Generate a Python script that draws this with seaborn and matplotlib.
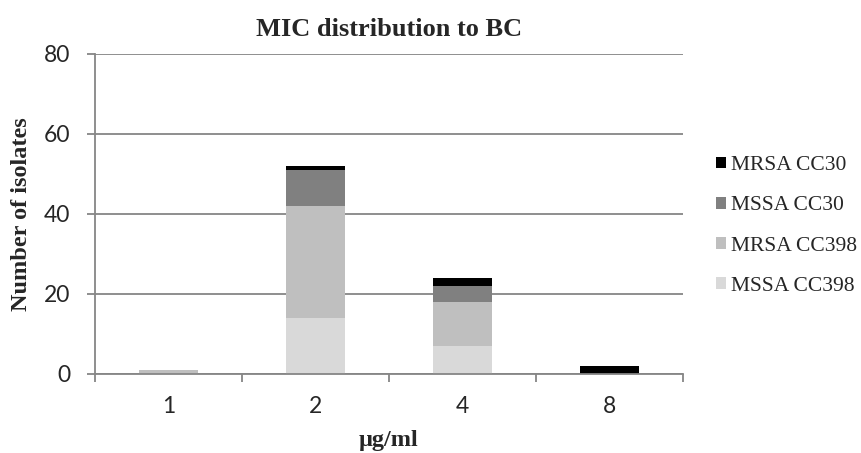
import matplotlib
matplotlib.use("Agg")
import matplotlib.pyplot as plt
import seaborn as sns
import pandas as pd
import numpy as np

categories = ["1", "2", "4", "8"]
mssa_cc398 = [0, 14, 7, 0]
mrsa_cc398 = [1, 28, 11, 0]
mssa_cc30 = [0, 9, 4, 0]
mrsa_cc30 = [0, 1, 2, 2]

series = [
    ("MSSA CC398", mssa_cc398, "#d9d9d9"),
    ("MRSA CC398", mrsa_cc398, "#bfbfbf"),
    ("MSSA CC30", mssa_cc30, "#808080"),
    ("MRSA CC30", mrsa_cc30, "#000000"),
]

sns.set_theme(style="white")
plt.rcParams['font.family'] = ['Liberation Serif', 'DejaVu Sans']

fig = plt.figure(figsize=(8.61, 4.53), dpi=100)
ax = fig.add_axes([95/861, 1-374/453, (683-95)/861, (374-54)/453])

bottom = np.zeros(len(categories))
for name, vals, col in series:
    df = pd.DataFrame({"cat": categories, "val": vals})
    sns.barplot(data=df, x="cat", y="val", color=col, bottom=bottom, width=0.4,
                ax=ax, saturation=1, linewidth=0, label=name)
    bottom = bottom + np.array(vals)

ax.set_ylim(0, 80)
ax.set_xlim(-0.5, 3.5)
ax.set_yticks([0, 20, 40, 60, 80])
ax.yaxis.grid(True, color="#868686", linewidth=1.3)
ax.set_axisbelow(True)
for s in ["top", "right"]:
    ax.spines[s].set_visible(False)
for s in ["left", "bottom"]:
    ax.spines[s].set_color("#868686")
    ax.spines[s].set_linewidth(1.3)

tick_font = dict(family="Lato", size=16.5)
ax.set_yticklabels(["0", "20", "40", "60", "80"], **tick_font)
ax.set_xticks(range(len(categories)))
ax.set_xticklabels(categories, **tick_font)
ax.tick_params(axis="x", which="major", length=0, pad=16)
ax.set_xticks([-0.5, 0.5, 1.5, 2.5, 3.5], minor=True)
ax.tick_params(axis="x", which="minor", length=6, width=1.3, color="#868686", bottom=True)
ax.tick_params(axis="y", which="major", length=6, width=1.3, color="#868686", left=True, pad=12)

ax.set_xlabel("μg/ml", fontsize=17.5, fontweight="bold", family="Liberation Serif", labelpad=9)
ax.set_ylabel("Number of isolates", fontsize=17.5, fontweight="bold", family="Liberation Serif", labelpad=8)
ax.set_title("MIC distribution to BC", fontsize=19, fontweight="bold", family="Liberation Serif", pad=13)

h, l = ax.get_legend_handles_labels()
leg = ax.legend(h[::-1], l[::-1], loc="center left", bbox_to_anchor=(1.042, 0.4625), frameon=False,
                prop=dict(family="Liberation Serif", size=15.5), handlelength=0.45, handleheight=0.45,
                handletextpad=0.25, labelspacing=0.98, borderaxespad=0)

fig.savefig("out.png", dpi=100)
